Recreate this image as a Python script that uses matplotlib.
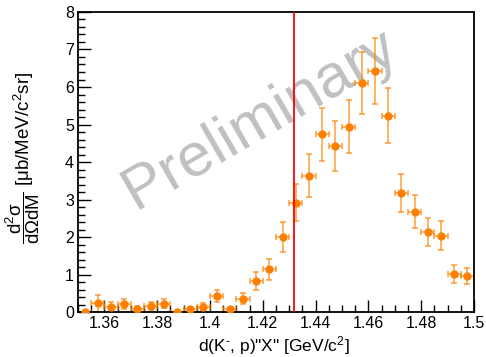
import numpy as np
import matplotlib
matplotlib.use("Agg")
import matplotlib.pyplot as plt
from matplotlib.ticker import MultipleLocator

plt.rcParams['font.family'] = ['Liberation Sans', 'DejaVu Sans']
plt.rcParams['mathtext.fontset'] = 'custom'
plt.rcParams['mathtext.rm'] = 'Liberation Sans'
plt.rcParams['mathtext.it'] = 'Liberation Sans'

# bin centres (bin width 5 MeV)
massa = np.arange(1.3525, 1.5, 0.005)
valori = [0.0, 0.23, 0.14, 0.21, 0.09, 0.16, 0.22, 0.0, 0.07, 0.14,
          0.43, 0.07, 0.36, 0.82, 1.14, 2.0, 2.92, 3.64, 4.74, 4.43,
          4.94, 6.10, 6.43, 5.24, 3.18, 2.68, 2.14, 2.04, 1.01, 0.96]
errori = [0.0, 0.22, 0.12, 0.13, 0.06, 0.10, 0.12, 0.0, 0.05, 0.09,
          0.15, 0.04, 0.14, 0.24, 0.28, 0.40, 0.50, 0.58, 0.70, 0.67,
          0.71, 0.83, 0.87, 0.73, 0.50, 0.45, 0.38, 0.38, 0.24, 0.22]
soglia = 1.432  # soglia K- p
etichette_x = ['1.36', '1.38', '1.4', '1.42', '1.44', '1.46', '1.48', '1.5']

fig = plt.figure(figsize=(4.86, 3.57), dpi=100)
ax = fig.add_axes([0.1605, 0.126, 0.8148, 0.8404])

ax.errorbar(massa, valori, yerr=errori, xerr=0.0025, fmt='none',
            ecolor='#ff8000', alpha=0.7, elinewidth=1.2, capsize=2, capthick=1.2)
ax.plot(massa, valori, 'o', color='#ff8000', markersize=5, zorder=3)

ax.axvline(soglia, color='#ff0000', linewidth=1.3, zorder=4)

ax.set_xlim(1.35, 1.5)
ax.set_ylim(0, 8)
ax.xaxis.set_minor_locator(MultipleLocator(0.005))
ax.yaxis.set_major_locator(MultipleLocator(1))
ax.yaxis.set_minor_locator(MultipleLocator(0.2))
ax.set_xticks([float(e) for e in etichette_x])
ax.set_xticklabels(etichette_x)
ax.tick_params(which='both', direction='in', top=False, right=False,
               labelsize=11.5, width=1, pad=3)
ax.tick_params(which='major', length=9)
ax.tick_params(which='minor', length=5)
for lato in ax.spines.values():
    lato.set_linewidth(1.3)

ax.set_xlabel(r'd(K$^{\text{-}}$, p)"X" [GeV/c$^{2}$]', fontsize=12.5)
ax.xaxis.set_label_coords(0.495, -0.072, transform=ax.transAxes)
ax.set_ylabel(r'$\dfrac{\mathrm{d}^2\sigma}{\mathrm{d}\Omega \mathrm{dM}}$ [$\mu$b/MeV/c$^2$sr]',
              fontsize=13.5)
ax.yaxis.set_label_coords(-0.14, 0.515, transform=ax.transAxes)
ax.yaxis.label.set_verticalalignment('center')

ax.text(0.46, 0.64, 'Preliminary', transform=ax.transAxes, fontsize=44,
        color='#c0c0c0', rotation=30, ha='center', va='center', zorder=1)

fig.savefig('out.png', dpi=100)
